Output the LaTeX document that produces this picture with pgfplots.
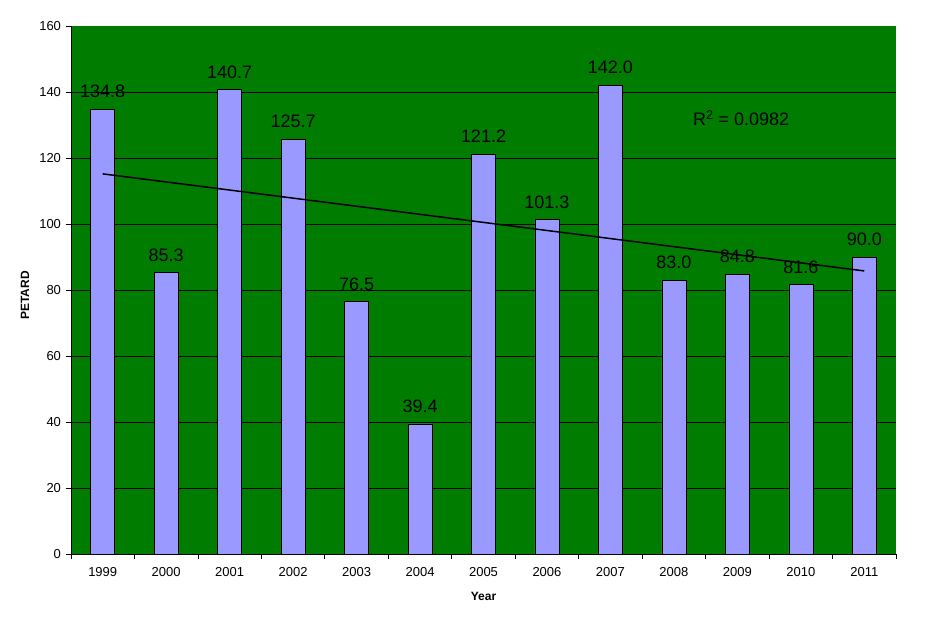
\documentclass[border=0pt]{standalone}
\usepackage{pgfplots}
\pgfplotsset{compat=1.18}
\usepackage{pgfplotstable}
\usepackage{fontspec}
\setmainfont{Liberation Sans}
\definecolor{bg}{RGB}{0,124,0}
\definecolor{barc}{RGB}{153,153,255}
\pgfplotstableread{
x y
0 134.8
1 85.3
2 140.7
3 125.7
4 76.5
5 39.4
6 121.2
7 101.3
8 142.0
9 83.0
10 84.8
11 81.6
12 90.0
}\data
\begin{document}
\begin{tikzpicture}[x=1pt,y=1pt]
\path[use as bounding box] (0,0) rectangle (925,630);
\begin{axis}[at={(71pt,76pt)}, anchor=south west, scale only axis,
  width=825pt, height=528pt,
  xmin=-0.5, xmax=12.5, ymin=0, ymax=160,
  axis x line*=bottom, axis y line*=left,
  axis line style={black, line width=0.8pt},
  axis background/.style={fill=bg},
  ytick={0,20,...,140},
  extra y ticks={160}, extra y tick style={grid=none},
  ymajorgrids, major grid style={black, line width=0.8pt},
  xtick={-0.5,0.5,...,12.5},
  x tick label as interval,
  xticklabels={1999,2000,2001,2002,2003,2004,2005,2006,2007,2008,2009,2010,2011},
  tick align=outside, major tick length=5pt,
  tick style={black, line width=0.8pt},
  ticklabel style={font=\fontsize{13}{15}\selectfont},
  xticklabel style={yshift=-5pt},
  yticklabel style={xshift=-1.5pt},
  /pgf/number format/assume math mode=true,
  ylabel={\bfseries PETARD}, xlabel={\bfseries Year},
  label style={font=\fontsize{12}{14}\selectfont},
  ylabel style={at={(axis description cs:-0.0558,0.49)}, anchor=center},
  xlabel style={at={(axis description cs:0.5,-0.0795)}, anchor=center},
  clip=false,
]
\addplot[ybar, bar width=24pt, fill=barc, draw=black, line width=0.6pt,
  nodes near coords,
  nodes near coords style={anchor=south, inner sep=0pt, yshift=11pt,
    font=\fontsize{18}{20}\selectfont,
    /pgf/number format/.cd, fixed, fixed zerofill, precision=1, assume math mode=true}]
  table {\data};
\addplot[black, line width=1.5pt, no marks]
  table[y={create col/linear regression={y=y}}] {\data};
\node[anchor=west, inner sep=0pt, font=\fontsize{18}{20}\selectfont] at (axis cs:9.3,132) {R\textsuperscript{2} = 0.0982};
\end{axis}
\end{tikzpicture}
\end{document}
